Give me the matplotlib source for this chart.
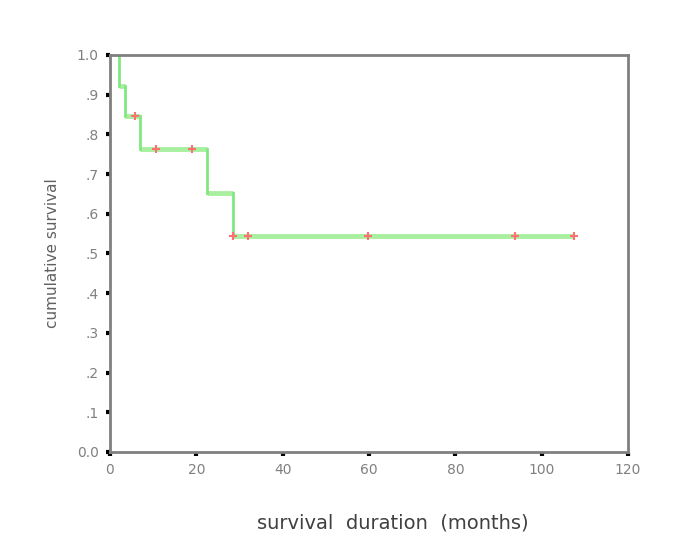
import matplotlib
matplotlib.use('Agg')
import matplotlib.pyplot as plt

# Kaplan-Meier step data (months, cumulative survival)
step_times = [2.1, 3.5, 6.9, 22.4, 28.4, 107.5]
step_surv = [0.923, 0.846, 0.762, 0.653, 0.544, 0.544]

# censored observations
censor_times = [5.8, 10.7, 19.1, 28.4, 32.0, 59.8, 93.8, 107.5]
censor_surv = [0.846, 0.762, 0.762, 0.544, 0.544, 0.544, 0.544, 0.544]

x_ticks = [0, 20, 40, 60, 80, 100, 120]
y_ticks = [0.0, 0.1, 0.2, 0.3, 0.4, 0.5, 0.6, 0.7, 0.8, 0.9, 1.0]
y_labels = ['0.0', '.1', '.2', '.3', '.4', '.5', '.6', '.7', '.8', '.9', '1.0']

fig = plt.figure(figsize=(6.78, 5.52), dpi=100)
ax = fig.add_axes([0.1622, 0.1812, 0.7641, 0.7192])

green = '#a8f0a0'
# horizontal parts thicker, vertical drops thinner (like the SPSS output)
ax.hlines(step_surv[:-1], step_times[:-1], step_times[1:], color=green, lw=3.5)
prev = [1.0] + step_surv[:-2]
ax.vlines(step_times[:-1], step_surv[:-1], prev, color='#80e880', lw=2,
          capstyle='projecting')
ax.plot(censor_times, censor_surv, ls='none', marker='+', ms=6, mew=1.5, color='#ff7070')

ax.set_xlim(0, 120)
ax.set_ylim(0, 1.0)
ax.set_xticks(x_ticks)
ax.set_yticks(y_ticks)
ax.set_yticklabels(y_labels)

for s in ax.spines.values():
    s.set_color('#808080')
    s.set_linewidth(2)

ax.tick_params(axis='both', direction='out', length=3, width=3, color='black',
               labelcolor='#808080', labelsize=10, pad=5)

ax.set_ylabel('cumulative survival', color='#606060', fontsize=11, labelpad=12)
fig.text(0.58, 0.052, 'survival  duration  (months)', ha='center', va='center',
         color='#404040', fontsize=14)

fig.savefig('out.png', dpi=100)
